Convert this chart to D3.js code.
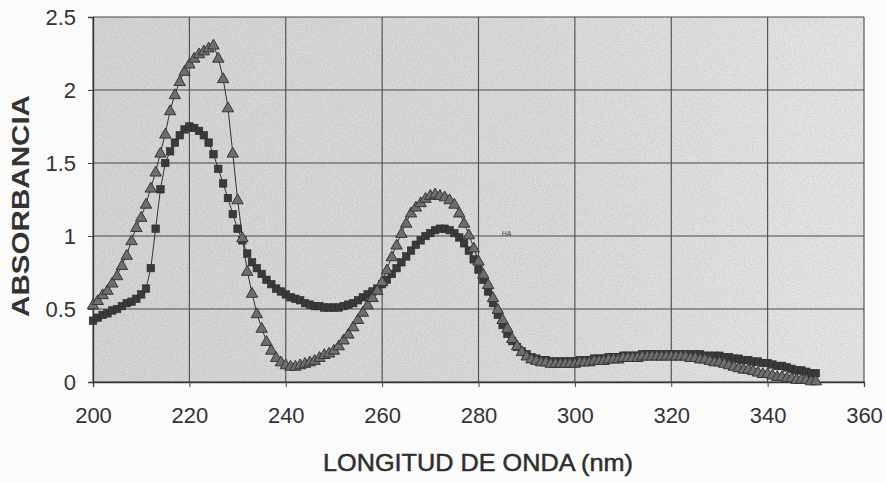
<!DOCTYPE html>
<html>
<head>
<meta charset="utf-8">
<script src="https://cdn.jsdelivr.net/npm/d3@7"></script>
<style>
  html, body { margin: 0; padding: 0; background: #fbfbfb; }
  svg { display: block; }
</style>
</head>
<body>
<div id="chart"></div>
<script>
// Absorbance spectra, one reading per nanometre from 200 to 350 nm
const wavelengthStart = 200;
const wavelengthEnd = 350;

// Series drawn with triangle markers
const absTriangles = [
  0.53, 0.56, 0.60, 0.63, 0.68, 0.73, 0.80, 0.87, 0.97, 1.06,
  1.13, 1.22, 1.33, 1.44, 1.57, 1.70, 1.86, 1.97, 2.06, 2.13,
  2.18, 2.22, 2.25, 2.27, 2.29, 2.31, 2.22, 2.08, 1.88, 1.57,
  1.25, 0.99, 0.76, 0.61, 0.47, 0.37, 0.28, 0.22, 0.17, 0.14,
  0.12, 0.11, 0.11, 0.12, 0.13, 0.14, 0.15, 0.17, 0.19, 0.20,
  0.22, 0.25, 0.29, 0.33, 0.38, 0.43, 0.48, 0.53, 0.58, 0.63,
  0.69, 0.77, 0.86, 0.94, 1.02, 1.09, 1.16, 1.20, 1.23, 1.26,
  1.28, 1.29, 1.28, 1.27, 1.25, 1.22, 1.16, 1.09, 1.01, 0.92,
  0.83, 0.74, 0.67, 0.58, 0.50, 0.43, 0.37, 0.30, 0.25, 0.21,
  0.18, 0.16, 0.15, 0.14, 0.14, 0.13, 0.13, 0.13, 0.13, 0.13,
  0.13, 0.14, 0.14, 0.14, 0.15, 0.15, 0.15, 0.16, 0.16, 0.16,
  0.17, 0.17, 0.17, 0.17, 0.18, 0.18, 0.18, 0.18, 0.18, 0.18,
  0.18, 0.18, 0.18, 0.18, 0.17, 0.17, 0.16, 0.16, 0.15, 0.14,
  0.14, 0.13, 0.12, 0.11, 0.10, 0.09, 0.09, 0.08, 0.07, 0.06,
  0.06, 0.05, 0.04, 0.04, 0.03, 0.03, 0.02, 0.02, 0.02, 0.01,
  0.01
];

// Series drawn with square markers
const absSquares = [
  0.42, 0.44, 0.46, 0.47, 0.49, 0.50, 0.52, 0.54, 0.55, 0.57,
  0.60, 0.64, 0.78, 1.05, 1.32, 1.50, 1.58, 1.64, 1.69, 1.73,
  1.75, 1.74, 1.72, 1.69, 1.64, 1.56, 1.46, 1.36, 1.26, 1.15,
  1.05, 0.97, 0.88, 0.82, 0.78, 0.74, 0.70, 0.67, 0.64, 0.62,
  0.60, 0.58, 0.57, 0.56, 0.54, 0.53, 0.52, 0.52, 0.51, 0.51,
  0.51, 0.51, 0.52, 0.53, 0.54, 0.56, 0.58, 0.60, 0.62, 0.64,
  0.67, 0.70, 0.74, 0.78, 0.82, 0.86, 0.90, 0.94, 0.97, 1.00,
  1.02, 1.04, 1.05, 1.05, 1.04, 1.02, 0.99, 0.95, 0.90, 0.84,
  0.77, 0.70, 0.62, 0.54, 0.46, 0.39, 0.33, 0.28, 0.24, 0.21,
  0.19, 0.17, 0.16, 0.15, 0.15, 0.14, 0.14, 0.14, 0.14, 0.14,
  0.14, 0.15, 0.15, 0.15, 0.16, 0.16, 0.16, 0.17, 0.17, 0.17,
  0.18, 0.18, 0.18, 0.18, 0.19, 0.19, 0.19, 0.19, 0.19, 0.19,
  0.19, 0.19, 0.19, 0.19, 0.19, 0.19, 0.19, 0.18, 0.18, 0.18,
  0.18, 0.17, 0.17, 0.16, 0.16, 0.15, 0.15, 0.14, 0.14, 0.13,
  0.13, 0.12, 0.11, 0.11, 0.10, 0.09, 0.08, 0.08, 0.07, 0.06,
  0.06
];

const xTicks = [200, 220, 240, 260, 280, 300, 320, 340, 360];
const yTicks = [0, 0.5, 1, 1.5, 2, 2.5];
const xTitle = "LONGITUD DE ONDA (nm)";
const yTitle = "ABSORBANCIA";
const peakNote = "HA";

const W = 886, H = 483;
const plot = { left: 93, right: 864, top: 17, bottom: 382 };

const wavelengths = d3.range(wavelengthStart, wavelengthEnd + 1);
const seriesTri = wavelengths.map((w, i) => ({ w, v: absTriangles[i] }));
const seriesSq = wavelengths.map((w, i) => ({ w, v: absSquares[i] }));

const x = d3.scaleLinear().domain([200, 360]).range([plot.left, plot.right]);
const y = d3.scaleLinear().domain([0, 2.5]).range([plot.bottom, plot.top]);

const svg = d3.select("#chart").append("svg")
  .attr("width", W).attr("height", H)
  .style("font-family", "'Liberation Sans', Arial, sans-serif");

const defs = svg.append("defs");
// grainy grey plot area
const grad = defs.append("linearGradient").attr("id", "plotFill")
  .attr("x1", "0").attr("x2", "1").attr("y1", "0").attr("y2", "0");
grad.append("stop").attr("offset", "0%").attr("stop-color", "#d6d6d6");
grad.append("stop").attr("offset", "55%").attr("stop-color", "#dbdbdb");
grad.append("stop").attr("offset", "100%").attr("stop-color", "#e6e6e6");

const grain = defs.append("filter").attr("id", "grain")
  .attr("x", 0).attr("y", 0).attr("width", "100%").attr("height", "100%");
grain.append("feTurbulence").attr("type", "fractalNoise")
  .attr("baseFrequency", 0.9).attr("numOctaves", 2).attr("seed", 4).attr("result", "noise");
grain.append("feColorMatrix").attr("type", "matrix")
  .attr("values", "0 0 0 0 0  0 0 0 0 0  0 0 0 0 0  0 0 0 0.55 -0.2");

svg.append("rect")
  .attr("x", plot.left).attr("y", plot.top)
  .attr("width", plot.right - plot.left).attr("height", plot.bottom - plot.top)
  .attr("fill", "url(#plotFill)");
svg.append("rect")
  .attr("x", plot.left).attr("y", plot.top)
  .attr("width", plot.right - plot.left).attr("height", plot.bottom - plot.top)
  .attr("filter", "url(#grain)").attr("opacity", 0.35);

// gridlines
const gridColor = "#4a4a4a";
svg.append("g").selectAll("line").data(xTicks).join("line")
  .attr("x1", d => x(d)).attr("x2", d => x(d))
  .attr("y1", plot.top).attr("y2", plot.bottom)
  .attr("stroke", gridColor).attr("stroke-width", 1.1);
svg.append("g").selectAll("line").data(yTicks).join("line")
  .attr("x1", plot.left).attr("x2", plot.right)
  .attr("y1", d => y(d)).attr("y2", d => y(d))
  .attr("stroke", gridColor).attr("stroke-width", 1.1);

// axes
const xAxis = d3.axisBottom(x).tickValues(xTicks).tickSize(5).tickPadding(20)
  .tickFormat(d3.format("d"));
const yAxis = d3.axisLeft(y).tickValues(yTicks).tickSize(5).tickPadding(12)
  .tickFormat(d => String(d));

const gx = svg.append("g").attr("transform", `translate(0,${plot.bottom})`).call(xAxis);
const gy = svg.append("g").attr("transform", `translate(${plot.left},0)`).call(yAxis);
[gx, gy].forEach(g => {
  g.select(".domain").attr("stroke", "#333").attr("stroke-width", 1.3);
  g.selectAll(".tick line").attr("stroke", "#444");
  g.selectAll(".tick text").attr("fill", "#333")
    .style("font-family", "'Liberation Sans', Arial, sans-serif")
    .style("font-size", "22px");
});
gy.selectAll(".tick text").attr("dy", "0.36em");

// connecting lines
const line = d3.line().x(d => x(d.w)).y(d => y(d.v));
svg.append("path").datum(seriesSq).attr("d", line)
  .attr("fill", "none").attr("stroke", "#333").attr("stroke-width", 1);
svg.append("path").datum(seriesTri).attr("d", line)
  .attr("fill", "none").attr("stroke", "#333").attr("stroke-width", 1);

// square markers
const sq = 7.5;
svg.append("g").selectAll("rect").data(seriesSq).join("rect")
  .attr("x", d => x(d.w) - sq / 2).attr("y", d => y(d.v) - sq / 2)
  .attr("width", sq).attr("height", sq)
  .attr("fill", "#3a3a3a").attr("stroke", "#2a2a2a").attr("stroke-width", 0.6);

// triangle markers
const tri = d3.symbol().type(d3.symbolTriangle).size(56);
svg.append("g").selectAll("path").data(seriesTri).join("path")
  .attr("transform", d => `translate(${x(d.w)},${y(d.v) + 1})`)
  .attr("d", tri)
  .attr("fill", "#6e6e6e").attr("stroke", "#363636").attr("stroke-width", 1);

// small annotation near the second band
svg.append("text")
  .attr("x", x(284.8)).attr("y", y(1.0))
  .attr("font-size", 7).attr("fill", "#444")
  .text(peakNote);

// axis titles
svg.append("text")
  .attr("x", 478).attr("y", 471)
  .attr("text-anchor", "middle")
  .attr("font-size", 24).attr("fill", "#2e2e2e")
  .attr("stroke", "#2e2e2e").attr("stroke-width", 0.5)
  .attr("textLength", 310).attr("lengthAdjust", "spacingAndGlyphs")
  .text(xTitle);

svg.append("text")
  .attr("transform", "translate(29,206) rotate(-90)")
  .attr("text-anchor", "middle")
  .attr("font-size", 24).attr("font-weight", "bold").attr("fill", "#333")
  .attr("textLength", 222).attr("lengthAdjust", "spacingAndGlyphs")
  .text(yTitle);
</script>
</body>
</html>
